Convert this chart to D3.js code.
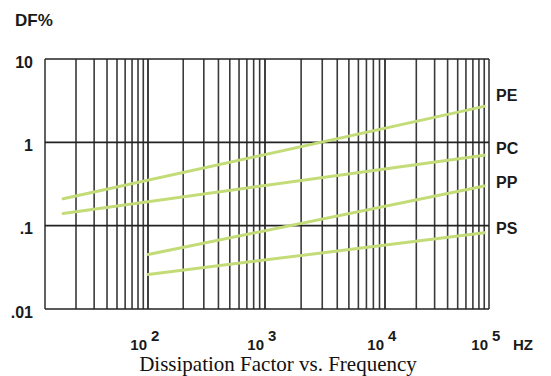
<!DOCTYPE html>
<html>
<head>
<meta charset="utf-8">
<script src="https://cdn.jsdelivr.net/npm/d3@7"></script>
<style>
  html, body { margin: 0; padding: 0; background: #fff; }
  svg { display: block; }
  .sans { font-family: Arial, "Liberation Sans", sans-serif; font-weight: bold; fill: #1a1a1a; }
</style>
</head>
<body>
<script>

// chart values
const series = ["PE", "PC", "PP", "PS"];
const freqStart = [15, 15, 100, 100];
const freqEnd = [90000, 90000, 90000, 90000];
const dfStart = [0.21, 0.14, 0.045, 0.026];
const dfEnd = [2.7, 0.7, 0.3, 0.082];
const labelDf = [3.7, 0.86, 0.33, 0.094];

const yTicks = [10, 1, 0.1, 0.01];
const yTickLabels = ["10", "1", ".1", ".01"];
const xDecades = [100, 1000, 10000, 100000];
const xExponents = ["2", "3", "4", "5"];

const chartWidth = 551,
      chartHeight = 376;

const svg = d3.select("body").append("svg")
    .attr("width", chartWidth)
    .attr("height", chartHeight);

// the scanned grid is not quite even, so each decade gets its own span
const x = d3.scaleLog()
    .domain([10, 100, 1000, 10000, 100000])
    .range([45, 148, 265, 385, 489]);

const y = d3.scaleLog()
    .domain([10, 0.01])
    .range([59, 309]);

// vertical lines: 2..9 in each decade plus the decade lines
const gridX = [];
for (let dec = 10; dec < 100000; dec *= 10) {
  for (let k = 1; k <= 10; k++) gridX.push(dec * k);
}

svg.append("g")
  .selectAll("line")
  .data(gridX)
  .join("line")
    .attr("x1", d => x(d))
    .attr("x2", d => x(d))
    .attr("y1", y(10))
    .attr("y2", y(0.01))
    .attr("stroke", "#3a3a3a")
    .attr("stroke-width", 1.6);

svg.append("g")
  .selectAll("line")
  .data(yTicks)
  .join("line")
    .attr("x1", x(10))
    .attr("x2", x(100000))
    .attr("y1", d => y(d))
    .attr("y2", d => y(d))
    .attr("stroke", "#222")
    .attr("stroke-width", 1.6);

// series lines
svg.append("g")
  .selectAll("line")
  .data(series)
  .join("line")
    .attr("x1", (d, i) => x(freqStart[i]))
    .attr("y1", (d, i) => y(dfStart[i]))
    .attr("x2", (d, i) => x(freqEnd[i]))
    .attr("y2", (d, i) => y(dfEnd[i]))
    .attr("stroke", "#c4dc78")
    .attr("stroke-width", 3)
    .attr("stroke-linecap", "round");

// series labels
svg.append("g")
  .selectAll("text")
  .data(series)
  .join("text")
    .attr("class", "sans")
    .attr("x", 496)
    .attr("y", (d, i) => y(labelDf[i]))
    .attr("dy", "0.36em")
    .attr("font-size", 16)
    .text(d => d);

// y tick labels
svg.append("g")
  .selectAll("text")
  .data(yTicks)
  .join("text")
    .attr("class", "sans")
    .attr("x", 33)
    .attr("y", d => y(d) + 3)
    .attr("dy", "0.36em")
    .attr("text-anchor", "end")
    .attr("font-size", 16)
    .text((d, i) => yTickLabels[i]);

// x tick labels, 10 with a raised exponent
const xl = svg.append("g")
  .selectAll("g")
  .data(xDecades)
  .join("g")
    .attr("transform", d => `translate(${x(d)},0)`);

xl.append("text")
    .attr("class", "sans")
    .attr("x", -1)
    .attr("y", 350)
    .attr("text-anchor", "end")
    .attr("font-size", 15)
    .text("10");

xl.append("text")
    .attr("class", "sans")
    .attr("x", 3)
    .attr("y", 341)
    .attr("font-size", 15)
    .text((d, i) => xExponents[i]);

svg.append("text")
    .attr("class", "sans")
    .attr("x", 513)
    .attr("y", 350)
    .attr("font-size", 15)
    .text("HZ");

svg.append("text")
    .attr("class", "sans")
    .attr("x", 15)
    .attr("y", 26)
    .attr("font-size", 17)
    .text("DF%");

svg.append("text")
    .attr("x", 278)
    .attr("y", 371)
    .attr("text-anchor", "middle")
    .attr("font-family", "'Times New Roman', 'Liberation Serif', serif")
    .attr("font-size", 21)
    .attr("fill", "#111")
    .text("Dissipation Factor vs. Frequency");

</script>
</body>
</html>
